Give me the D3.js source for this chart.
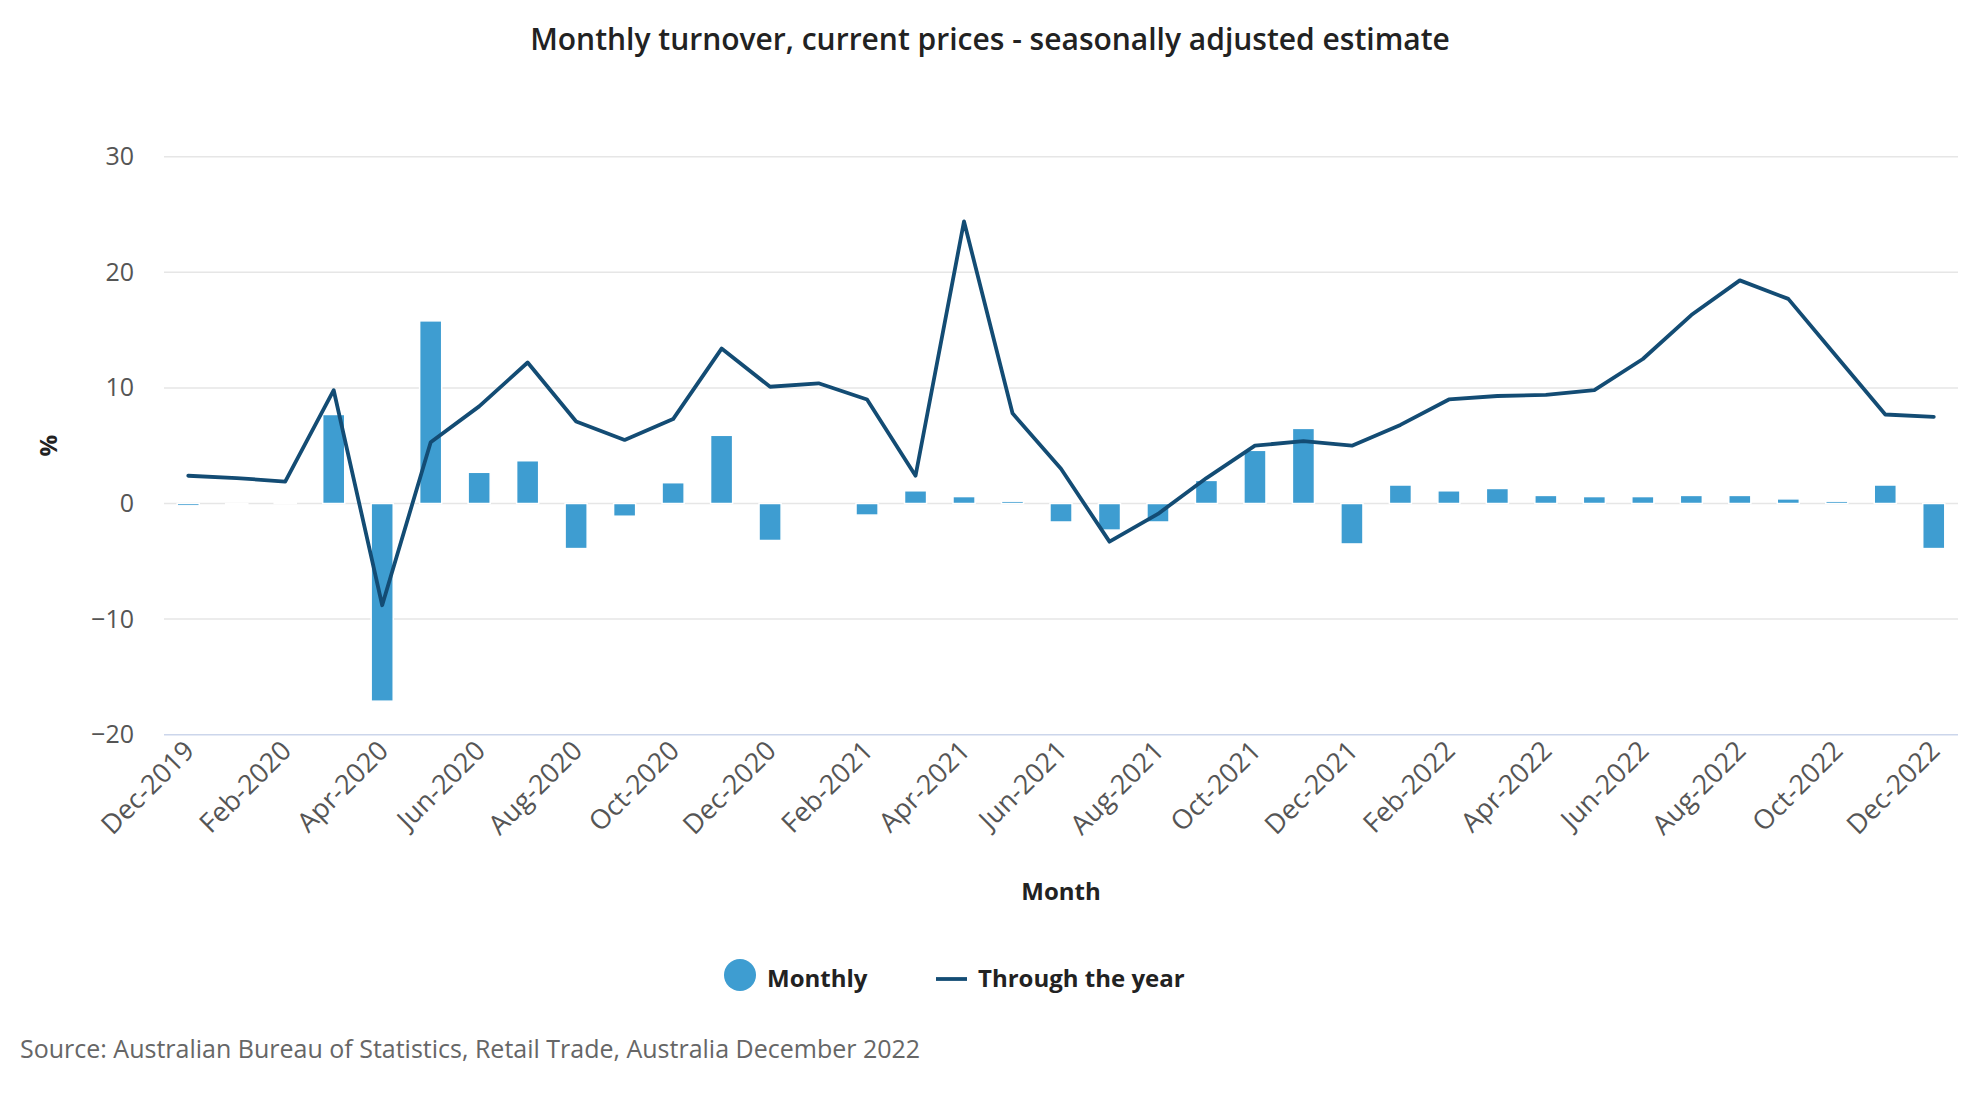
<!DOCTYPE html>
<html>
<head>
<meta charset="utf-8">
<script src="https://cdn.jsdelivr.net/npm/d3@7"></script>
<style>
  html, body { margin: 0; padding: 0; background: #ffffff; }
  svg { display: block; font-family: "Open Sans", "Noto Sans", sans-serif; }
</style>
</head>
<body>
<svg id="chart" width="1980" height="1100"></svg>
<script>
// ---- Data ----
const months = ["Dec-2019","Jan-2020","Feb-2020","Mar-2020","Apr-2020","May-2020","Jun-2020","Jul-2020","Aug-2020","Sep-2020","Oct-2020","Nov-2020","Dec-2020",
  "Jan-2021","Feb-2021","Mar-2021","Apr-2021","May-2021","Jun-2021","Jul-2021","Aug-2021","Sep-2021","Oct-2021","Nov-2021","Dec-2021",
  "Jan-2022","Feb-2022","Mar-2022","Apr-2022","May-2022","Jun-2022","Jul-2022","Aug-2022","Sep-2022","Oct-2022","Nov-2022","Dec-2022"];
const monthly = [-0.2, -0.1, 0.1, 7.7, -17.1, 15.8, 2.7, 3.7, -3.9, -1.1, 1.8, 5.9, -3.2,
  null, -1.0, 1.1, 0.6, 0.2, -1.6, -2.3, -1.6, 2.0, 4.6, 6.5, -3.5,
  1.6, 1.1, 1.3, 0.7, 0.6, 0.6, 0.7, 0.7, 0.4, 0.2, 1.6, -3.9];
const throughYear = [2.4, 2.2, 1.9, 9.8, -8.8, 5.3, 8.4, 12.2, 7.1, 5.5, 7.3, 13.4, 10.1,
  10.4, 9.0, 2.4, 24.4, 7.8, 3.0, -3.3, -0.9, 2.2, 5.0, 5.4, 5.0,
  6.8, 9.0, 9.3, 9.4, 9.8, 12.5, 16.3, 19.3, 17.7, 12.7, 7.7, 7.5];
const yTicks = [-20, -10, 0, 10, 20, 30];
const xTickLabels = months.filter((m, i) => i % 2 === 0);

const titleText = "Monthly turnover, current prices - seasonally adjusted estimate";
const seriesNames = ["Monthly", "Through the year"];
const sourceText = "Source: Australian Bureau of Statistics, Retail Trade, Australia December 2022";

// ---- Layout ----
const svg = d3.select("#chart");
const plotL = 164, plotR = 1958, plotT = 156.7, plotB = 734.7;
const barColor = "#3e9dd1", lineColor = "#134c74";

const x = d3.scaleBand().domain(months).range([plotL, plotR]).paddingInner(0.545).paddingOuter(0.2725);
const y = d3.scaleLinear().domain([-20, 30]).range([plotB, plotT]);

// Title
svg.append("text").attr("x", 990).attr("y", 50).attr("text-anchor", "middle")
  .attr("font-size", 30).attr("font-weight", 600).attr("fill", "#222").text(titleText);

// Gridlines
svg.append("g").selectAll("line").data(yTicks.filter(t => t !== -20)).join("line")
  .attr("x1", plotL).attr("x2", plotR).attr("y1", d => y(d)).attr("y2", d => y(d))
  .attr("stroke", "#e6e6e6").attr("stroke-width", 1.5);
svg.append("line").attr("x1", plotL).attr("x2", plotR).attr("y1", y(-20)).attr("y2", y(-20))
  .attr("stroke", "#ccd6eb").attr("stroke-width", 1.5);

// Y axis labels
const yAxis = d3.axisLeft(y).tickValues(yTicks).tickSize(0).tickPadding(0)
  .tickFormat(d => d < 0 ? "\u2212" + Math.abs(d) : d);
const yg = svg.append("g").attr("transform", `translate(${plotL - 30},0)`).call(yAxis);
yg.select(".domain").remove();
yg.selectAll("text").attr("font-size", 25).attr("fill", "#555").attr("font-family", "'Open Sans', sans-serif");

// Y axis title
svg.append("text").attr("transform", `translate(57,${(plotT + plotB) / 2}) rotate(-90)`)
  .attr("text-anchor", "middle").attr("font-size", 24).attr("font-weight", 700).attr("fill", "#222").text("%");

// X axis labels
const xAxis = d3.axisBottom(x).tickValues(xTickLabels).tickSize(0).tickPadding(0);
const xg = svg.append("g").attr("transform", `translate(0,${plotB + 14})`).call(xAxis);
xg.select(".domain").remove();
xg.selectAll("text").attr("font-size", 27).attr("fill", "#555")
  .attr("font-family", "'Open Sans', sans-serif")
  .attr("text-anchor", "end").attr("dy", "0.35em")
  .attr("transform", "translate(1,-3) rotate(-45)");

// X axis title
svg.append("text").attr("x", (plotL + plotR) / 2).attr("y", 900).attr("text-anchor", "middle")
  .attr("font-size", 24).attr("font-weight", 700).attr("fill", "#222").text("Month");

// Bars
const barData = months.map((m, i) => ({ m, v: monthly[i] })).filter(d => d.v !== null);
svg.append("g").selectAll("rect").data(barData).join("rect")
  .attr("x", d => x(d.m)).attr("width", x.bandwidth())
  .attr("y", d => Math.min(y(d.v), y(0)))
  .attr("height", d => Math.abs(y(d.v) - y(0)))
  .attr("fill", barColor).attr("stroke", "#ffffff").attr("stroke-width", 1.5);

// Line
const lineData = months.map((m, i) => ({ m, v: throughYear[i] }));
const line = d3.line().x(d => x(d.m) + x.bandwidth() / 2).y(d => y(d.v));
svg.append("path").datum(lineData).attr("d", line)
  .attr("fill", "none").attr("stroke", lineColor).attr("stroke-width", 3.8)
  .attr("stroke-linejoin", "round").attr("stroke-linecap", "round");

// Legend
const lg = svg.append("g");
lg.append("circle").attr("cx", 740).attr("cy", 975).attr("r", 16).attr("fill", barColor);
lg.append("text").attr("x", 767).attr("y", 987).attr("font-size", 24).attr("font-weight", 700)
  .attr("fill", "#222").text(seriesNames[0]);
lg.append("line").attr("x1", 936).attr("x2", 967).attr("y1", 979).attr("y2", 979)
  .attr("stroke", lineColor).attr("stroke-width", 3.8);
lg.append("text").attr("x", 978).attr("y", 987).attr("font-size", 24).attr("font-weight", 700)
  .attr("fill", "#222").text(seriesNames[1]);

// Source
svg.append("text").attr("x", 20).attr("y", 1058).attr("font-size", 25).attr("fill", "#666").text(sourceText);
</script>
</body>
</html>
